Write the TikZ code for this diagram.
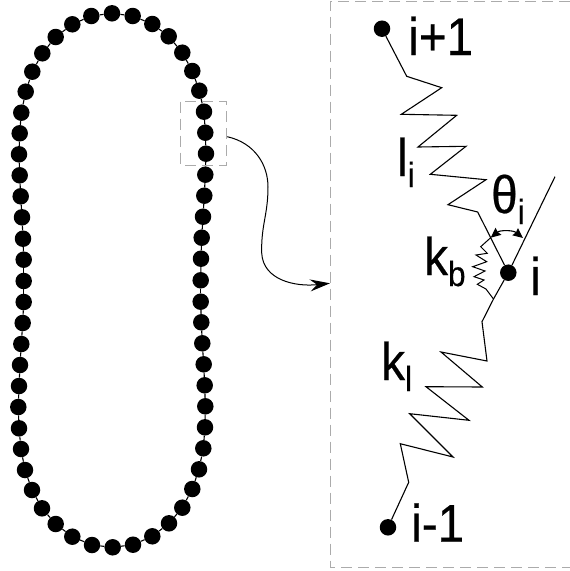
\documentclass[tikz,border=0pt]{standalone}
\usepackage{fontspec}
\setmainfont{Liberation Sans}[FakeStretch=0.9, FakeBold=0.4]
\usetikzlibrary{arrows.meta}
\newcommand{\sublabel}[2]{#1\raisebox{-11pt}{\fontsize{35}{35}\selectfont #2}}
\tikzset{
  bead/.style={circle, fill=black, inner sep=0pt, minimum size=16.5pt},
  tag/.style={anchor=base west, inner sep=0pt, font=\fontsize{53}{53}\selectfont},
  zoombox/.style={draw=black!33, line width=1pt, dash pattern=on 11pt off 6pt},
  chain/.style={line width=1.1pt, line join=miter}
}
\begin{document}
\begin{tikzpicture}[x=1pt, y=-1pt]
  \useasboundingbox (0,0) rectangle (570,571);
  % Polymer ring
  \foreach \n/\x/\y [count=\c] in {
    0/112/13.3, 1/132.7/16, 2/152.3/24, 3/168.7/36.3, 4/182.3/52.7, 5/192.3/71, 6/199.3/90.7,
    7/204/111.7, 8/205.3/132.7, 9/206/153.7, 10/205.3/174.7, 11/204.3/195.7, 12/203/216.7,
    13/201.7/237.7, 14/201/258.7, 15/200.7/280.3, 16/200.7/301.7, 17/201.3/322.3, 18/202.3/343.3,
    19/203.7/364.3, 20/204.7/385.3, 21/205.3/406.3, 22/205/427.3, 23/203.3/448.3, 24/199/469.3,
    25/192.3/489, 26/182.3/507.7, 27/169/523.3, 28/152.3/536.3, 29/133/544.7, 30/112.7/547.3,
    31/92/545, 32/72.3/536.7, 33/55.7/524, 34/42/508.3, 35/32/490, 36/25/470, 37/21/449,
    38/19/428.3, 39/18.3/407, 40/19/386, 41/20/365, 42/21.3/344, 43/22.7/323, 44/23.7/302,
    45/23.7/281, 46/23.7/259.7, 47/23/238.7, 48/22/217.3, 49/20.7/196.3, 50/19.7/175.3,
    51/19/154.3, 52/19.7/133.3, 53/21.3/112.7, 54/25.7/91.7, 55/32.3/71.7, 56/42.3/53.3,
    57/55.7/37, 58/72.3/24.3, 59/91.3/16}
    \node [bead] (b\n) at (\x,\y) {};
  \foreach \n [remember=\n as \m (initially 59)] in {0,...,59}
    \draw [chain] (b\m) -- (b\n);
  % Zoomed region and panel
  \draw [zoombox] (180.5,101.5) rectangle (226.5,165);
  \draw [zoombox] (570,1) -- (330.5,1) -- (330.5,567) -- (570,567);
  \coordinate (zoomstart) at (227.3,136.7);
  \coordinate (zoomend) at (330,283.3);
  \draw [line width=1pt, -{Stealth[length=20pt, width=12pt, inset=7pt]}] (zoomstart)
    .. controls (255,143) and (268,165) .. (268,187)
    .. controls (268,215) and (261,225) .. (261.7,253)
    .. controls (263,280) and (295,287) .. (zoomend);
  % Beads of the panel
  \node [bead] (upper) at (382,28.7) {};
  \node [bead] (middle) at (508.3,272.7) {};
  \node [bead] (lower) at (388,527.3) {};
  \coordinate (tangent) at (555,176.7);
  \coordinate (bendtop) at (490.7,237.7);
  \coordinate (bendend) at (523,238);
  \coordinate (bendlow) at (493.5,299);
  % Upper spring
  \draw [chain] (upper) -- (406.7,76.3) -- (441.7,87.7) -- (401.3,114.3) -- (456.7,115.3)
    -- (418,147) -- (466,146.3) -- (430.3,174.3) -- (486,179.7) -- (448,204.7)
    -- (477.7,212) -- (middle);
  % Lower spring
  \draw [chain] (tangent) -- (middle) -- (bendlow) -- (482,321.7) -- (487,361) -- (441,352)
    -- (482.3,387) -- (426,386.7) -- (469,420.3) -- (409.7,413.7) -- (453,457)
    -- (400.3,443.7) -- (408.7,482.3) -- (lower);
  % Bending spring
  \draw [chain, line width=1pt] (bendtop) -- (480.7,246.7) -- (487.3,253.3) -- (476,255)
    -- (486.7,261.7) -- (472.7,266.7) -- (485,271) -- (474,276.7) -- (484,280)
    -- (477.3,284.3) -- (486,289) -- (bendlow);
  % Bending angle
  \draw [chain, {Stealth[length=10pt, width=9pt, inset=1pt]}-{Stealth[length=10pt, width=9pt, inset=1pt]}] (bendtop)
    .. controls (500,230) and (513,230) .. (bendend);
  % Labels
  \node [tag] (lblup) at (408,55) {i+1};
  \node [tag] (lblmid) at (530,295) {i};
  \node [tag] (lbllow) at (411,541.7) {i-1};
  \node [tag] (lbllen) at (397,176) {\sublabel{l}{i}};
  \node [tag] (lblang) at (491,213) {\sublabel{θ}{i}};
  \node [tag] (lblbend) at (424,275) {\sublabel{k}{b}};
  \node [tag] (lblstiff) at (381,380) {\sublabel{k}{l}};
\end{tikzpicture}
\end{document}
